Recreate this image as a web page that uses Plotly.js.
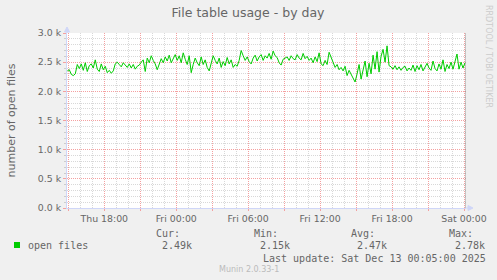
<!DOCTYPE html>
<html><head><meta charset="utf-8">
<script src="https://cdn.plot.ly/plotly-3.0.1.min.js"></script>
<style>html,body{margin:0;padding:0;background:#f0f0f0;}#chart{width:497px;height:280px;}</style>
</head><body><div id="chart"></div>
<script>
const seriesName = "open files";
const startTime = Date.UTC(2025, 11, 11, 14, 55);
const stepMinutes = 10;
const openFiles = [
2350,
2370,2290,2270,2300,2460,2390,
2470,2360,2490,2340,2440,2470,
2400,2540,2380,2340,2470,2370,
2430,2320,2360,2310,2350,2470,
2500,2460,2420,2490,2440,2410,
2470,2400,2460,2380,2430,2450,
2500,2540,2340,2570,2490,2610,
2530,2470,2370,2460,2560,2490,
2590,2520,2620,2490,2570,2630,
2530,2610,2490,2660,2550,2460,
2610,2320,2460,2570,2490,2440,
2590,2460,2540,2410,2350,2510,
2610,2530,2470,2570,2410,2510,
2440,2580,2470,2540,2410,2460,
2430,2530,2700,2610,2530,2590,
2510,2470,2570,2620,2520,2590,
2630,2530,2610,2570,2650,2550,
2690,2610,2580,2490,2450,2550,
2570,2590,2530,2610,2560,2540,
2630,2570,2540,2650,2560,2600,
2530,2570,2490,2590,2510,2660,
2470,2440,2530,2460,2670,2590,
2510,2410,2460,2370,2410,2350,
2430,2270,2360,2290,2220,2160,
2300,2460,2210,2400,2520,2250,
2480,2300,2620,2380,2680,2330,
2600,2720,2500,2780,2440,2420,
2380,2440,2370,2420,2360,2410,
2430,2350,2400,2360,2450,2340,
2440,2370,2460,2350,2420,2480,
2400,2360,2520,2390,2350,2470,
2380,2540,2340,2460,2390,2500,
2380,2530,2640,2380,2500,2400,
2490
];
const xTickVals = ["2025-12-11 15:00","2025-12-11 18:00","2025-12-11 21:00","2025-12-12 00:00","2025-12-12 03:00","2025-12-12 06:00","2025-12-12 09:00","2025-12-12 12:00","2025-12-12 15:00","2025-12-12 18:00","2025-12-12 21:00","2025-12-13 00:00"];
const xTickText = ["","Thu 18:00","","Fri 00:00","","Fri 06:00","","Fri 12:00","","Fri 18:00","","Sat 00:00"];
const yTickVals = [0,500,1000,1500,2000,2500,3000];
const yTickText = ["0.0 k","0.5 k","1.0 k","1.5 k","2.0 k","2.5 k","3.0 k"];
const statLabels = ["Cur:","Min:","Avg:","Max:"];
const statValues = ["2.49k","2.15k","2.47k","2.78k"];
const xRange = ["2025-12-11 14:53:30","2025-12-13 00:10:00"];
const nowTime = "2025-12-13 00:10:00";
const titleText = "File table usage - by day";
const yTitle = "number of open files";
const lastUpdate = "Last update: Sat Dec 13 00:05:00 2025";
const footer = "Munin 2.0.33-1";
const sideText = "RRDTOOL / TOBI OETIKER";

function fmt(ms){ return new Date(ms).toISOString().slice(0,19).replace('T',' '); }
const times = openFiles.map((v,i)=>fmt(startTime + i*stepMinutes*60000));

const L=67, R=466, T=33, B=208, W=497, H=280;
const px = x => (x-L)/(R-L);
const py = y => (B-y)/(B-T);

const mono = {family:"DejaVu Sans Mono", size:10, color:"#666666"};
const ann = [];
function txt(text,x,y,font,extra){ ann.push(Object.assign({text:text,x:px(x),y:py(y),xref:'paper',yref:'paper',xanchor:'left',yanchor:'middle',showarrow:false,font:font,borderpad:0},extra||{})); }
txt(seriesName,27,245,mono);
const statX=[154.7,252.7,350,447.7];
statLabels.forEach((s,i)=>{ txt(s,statX[i],233,mono); txt(statValues[i],statX[i]+6,245,mono); });
txt(lastUpdate,261.7,258,mono);
txt(footer,218.3,269,{family:"DejaVu Sans",size:8,color:"#bbbbbb"});
txt(sideText,488.5,56.5,{family:"DejaVu Sans",size:8,color:"#cccccc"},{xanchor:'center',textangle:90});
txt(yTitle,11,120.5,{family:"DejaVu Sans",size:11,color:"#666666"},{xanchor:'center',textangle:-90});

const axisCol = "#cfd6f8";
const shapes = [
  {type:'rect',xref:'paper',yref:'paper',x0:px(14),x1:px(20),y0:py(248),y1:py(242),fillcolor:'#00cc00',line:{width:0}},
  {type:'line',xref:'x',yref:'y',x0:nowTime,x1:nowTime,y0:0,y1:3000,line:{color:'#888888',width:1}},
  {type:'line',xref:'paper',yref:'paper',x0:px(466),x1:px(469),y0:py(208),y1:py(208),line:{color:axisCol,width:1}},
  {type:'line',xref:'paper',yref:'paper',x0:px(67),x1:px(67),y0:py(33),y1:py(29),line:{color:axisCol,width:1}},
  {type:'path',xref:'paper',yref:'paper',path:`M ${px(64.5)},${py(32)} L ${px(67)},${py(27)} L ${px(69.5)},${py(32)} Z`,fillcolor:axisCol,line:{color:axisCol,width:1}},
  {type:'path',xref:'paper',yref:'paper',path:`M ${px(468)},${py(205.5)} L ${px(473)},${py(208)} L ${px(468)},${py(210.5)} Z`,fillcolor:axisCol,line:{color:axisCol,width:1}}
];

const trace = {x:times,y:openFiles,type:'scatter',mode:'lines',name:seriesName,line:{color:'#00cc00',width:1},hoverinfo:'skip'};
const tickFont = {family:"DejaVu Sans",size:9.4,color:"#666666"};
const layout = {
  width:W,height:H,margin:{l:L,r:W-R,t:T,b:H-B,pad:0},
  paper_bgcolor:'#f0f0f0',plot_bgcolor:'#ffffff',showlegend:false,
  title:{text:titleText,x:0.499,xanchor:'center',y:1-13/H,yanchor:'middle',yref:'container',font:{family:"DejaVu Sans",size:12.5,color:"#666666"}},
  xaxis:{type:'date',range:xRange,tickmode:'array',tickvals:xTickVals,ticktext:xTickText,tickfont:tickFont,
    showgrid:true,gridcolor:'#f4a0a0',griddash:'1px,1px',gridwidth:1,ticks:'outside',ticklen:2,tickcolor:'#f4a0a0',
    showline:true,linecolor:axisCol,linewidth:1,zeroline:false,fixedrange:true,
    minor:{tickmode:'linear',tick0:"2025-12-11 15:00",dtick:3600000,showgrid:true,gridcolor:'#d8d8d8',griddash:'1px,1px',ticks:'',ticklen:0}},
  yaxis:{range:[0,3000],tickmode:'array',tickvals:yTickVals,ticktext:yTickText,tickfont:tickFont,
    showgrid:true,gridcolor:'#f4a0a0',griddash:'1px,1px',gridwidth:1,ticks:'outside',ticklen:3,tickcolor:'#f4a0a0',
    showline:true,linecolor:axisCol,linewidth:1,zeroline:false,fixedrange:true,
    minor:{tickmode:'linear',tick0:0,dtick:100,showgrid:true,gridcolor:'#d8d8d8',griddash:'1px,1px',ticks:'outside',ticklen:2,tickcolor:'#cccccc'}},
  annotations:ann,shapes:shapes
};
Plotly.newPlot('chart',[trace],layout,{staticPlot:true,displayModeBar:false});
</script></body></html>
